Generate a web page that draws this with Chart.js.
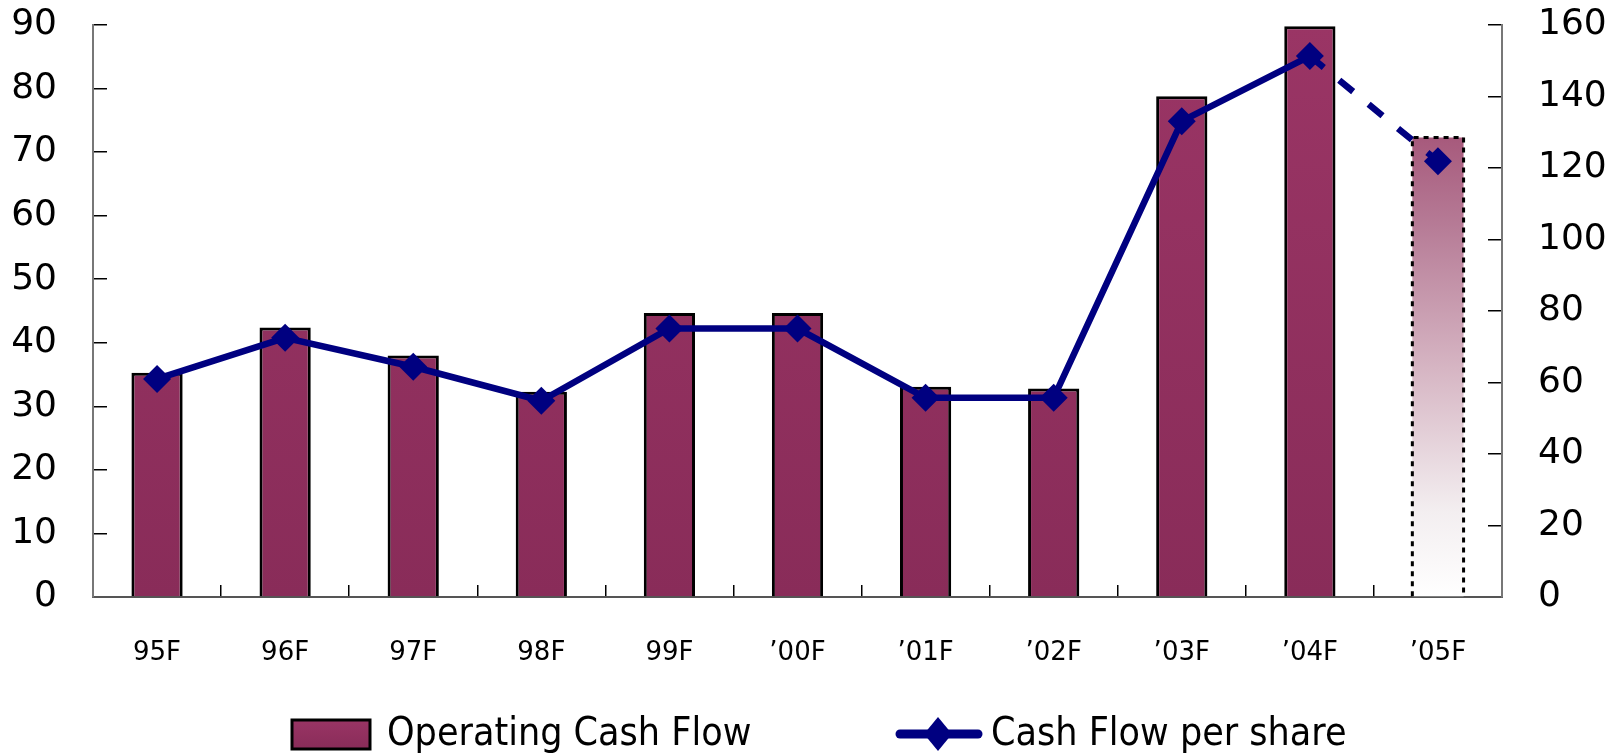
<!DOCTYPE html>
<html>
<head>
<meta charset="utf-8">
<style>
  html, body { margin: 0; padding: 0; background: #ffffff; }
  #wrap { width: 1619px; height: 755px; }
</style>
<script src="https://cdn.jsdelivr.net/npm/chart.js@4/dist/chart.umd.min.js"></script>
</head>
<body>
<div id="wrap"><canvas id="chart" width="1619" height="755"></canvas></div>
<script>
// Fiscal years on the category axis
const years = ['95F', '96F', '97F', '98F', '99F', '’00F', '’01F', '’02F', '’03F', '’04F', '’05F'];
// Operating cash flow (left axis)
const operatingCashFlow = [35.3, 42.4, 38.0, 32.3, 44.7, 44.7, 33.1, 32.8, 78.8, 89.8, 72.3];
// Cash flow per share (right axis)
const cashFlowPerShare = [61.0, 72.5, 64.4, 54.9, 75.1, 75.1, 55.7, 55.7, 133.1, 151.3, 121.9];
// Axis ranges
const leftAxis = { min: 0, max: 90, step: 10 };
const rightAxis = { min: 0, max: 160, step: 20 };

const lastIndex = years.length - 1;   // the forecast year
const BAR_TOP = '#9a3565';
const BAR_BOTTOM = '#892c59';
const NAVY = '#000080';
const FONT = '"DejaVu Sans", Arial, sans-serif';

function barFill(ctx) {
  const chart = ctx.chart;
  const area = chart.chartArea;
  if (!area) return BAR_TOP;
  const c = chart.ctx;
  if (ctx.dataIndex === lastIndex) {
    const el = chart.getDatasetMeta(ctx.datasetIndex).data[ctx.dataIndex];
    const top = el && isFinite(el.y) ? el.y : area.top;
    const g = c.createLinearGradient(0, top, 0, area.bottom);
    g.addColorStop(0, '#953062');
    g.addColorStop(0.08, '#9b4068');
    g.addColorStop(0.35, '#b67b96');
    g.addColorStop(0.6, '#d6b5c3');
    g.addColorStop(0.85, '#f3eef0');
    g.addColorStop(1, '#ffffff');
    return g;
  }
  const g = c.createLinearGradient(0, area.top, 0, area.bottom);
  g.addColorStop(0, BAR_TOP);
  g.addColorStop(1, BAR_BOTTOM);
  return g;
}

// Dotted outline for the forecast bar
const forecastOutline = {
  id: 'forecastOutline',
  afterDatasetsDraw(chart) {
    const meta = chart.getDatasetMeta(0);
    const bar = meta.data[lastIndex];
    if (!bar) return;
    const p = bar.getProps(['x', 'y', 'base', 'width'], true);
    const left = p.x - p.width / 2, right = p.x + p.width / 2;
    const c = chart.ctx;
    c.save();
    c.strokeStyle = '#000000';
    c.lineWidth = 3;
    c.setLineDash([5, 5]);
    c.beginPath();
    c.moveTo(left, p.base);
    c.lineTo(left, p.y);
    c.lineTo(right, p.y);
    c.lineTo(right, p.base);
    c.stroke();
    c.restore();
  }
};

// Legend row drawn under the axis labels
const bottomLegend = {
  id: 'bottomLegend',
  afterDraw(chart) {
    const c = chart.ctx;
    const y = 734;
    const ds = chart.data.datasets;
    c.save();
    // bar swatch
    const g = c.createLinearGradient(0, y - 15, 0, y + 15);
    g.addColorStop(0, BAR_TOP);
    g.addColorStop(1, BAR_BOTTOM);
    c.fillStyle = g;
    c.fillRect(292, y - 14, 78, 29);
    c.strokeStyle = '#000000';
    c.lineWidth = 3;
    c.strokeRect(292, y - 14, 78, 29);
    // line swatch
    c.strokeStyle = NAVY;
    c.lineWidth = 9;
    c.lineCap = 'round';
    c.beginPath();
    c.moveTo(900, y);
    c.lineTo(978, y);
    c.stroke();
    c.fillStyle = NAVY;
    c.beginPath();
    c.moveTo(938, y - 17);
    c.lineTo(952, y);
    c.lineTo(938, y + 17);
    c.lineTo(924, y);
    c.closePath();
    c.fill();
    // labels
    c.fillStyle = '#000000';
    c.font = '39px "DejaVu Sans Condensed", "Liberation Sans", Arial, sans-serif';
    c.textBaseline = 'middle';
    c.textAlign = 'left';
    c.fillText(ds[0].label, 387, y + 1);
    c.fillText(ds[1].label, 991, y + 1);
    c.restore();
  }
};

const tickFont = { family: FONT, size: 36 };

// Keeps the plot area fixed: axis widths and label overhang
function fixVertical(width) {
  return (scale) => {
    scale.width = width;
    scale.paddingTop = 10;
    scale.paddingBottom = 10;
  };
}

new Chart(document.getElementById('chart'), {
  data: {
    labels: years,
    datasets: [
      {
        type: 'bar',
        label: 'Operating Cash Flow',
        data: operatingCashFlow,
        yAxisID: 'yLeft',
        backgroundColor: barFill,
        borderColor: (ctx) => ctx.dataIndex === lastIndex ? 'rgba(0,0,0,0)' : '#000000',
        borderWidth: (ctx) => ctx.dataIndex === lastIndex ? 0 : 3,
        borderSkipped: 'bottom',
        barPercentage: 0.4,
        categoryPercentage: 1.0,
        order: 2
      },
      {
        type: 'line',
        label: 'Cash Flow per share',
        data: cashFlowPerShare,
        yAxisID: 'yRight',
        borderColor: NAVY,
        backgroundColor: NAVY,
        borderWidth: 6.5,
        pointStyle: 'rectRot',
        pointRadius: 14,
        pointHoverRadius: 14,
        pointBackgroundColor: NAVY,
        pointBorderColor: NAVY,
        pointBorderWidth: 0,
        tension: 0,
        fill: false,
        segment: {
          borderDash: (s) => s.p1DataIndex === lastIndex ? [18, 20] : undefined
        },
        order: 1
      }
    ]
  },
  options: {
    responsive: false,
    animation: false,
    layout: { padding: { top: 25, bottom: 88, left: 0, right: 0 } },
    plugins: {
      legend: { display: false },
      tooltip: { enabled: false }
    },
    scales: {
      x: {
        offset: true,
        grid: {
          offset: true,
          drawOnChartArea: false,
          drawTicks: true,
          tickLength: -12,
          color: '#000000',
          lineWidth: 1.5
        },
        border: { color: '#555555', width: 2 },
        ticks: {
          color: '#000000',
          font: { family: FONT, size: 26 },
          padding: 53,
          maxRotation: 0,
          autoSkip: false
        },
        afterFit(scale) { scale.height = 70; }
      },
      yLeft: {
        position: 'left',
        min: leftAxis.min,
        max: leftAxis.max,
        grid: {
          drawOnChartArea: false,
          drawTicks: true,
          tickLength: -14,
          color: '#000000',
          lineWidth: 1.5
        },
        border: { color: '#777777', width: 2 },
        ticks: {
          stepSize: leftAxis.step,
          color: '#000000',
          font: tickFont,
          padding: 50
        },
        afterFit: fixVertical(93)
      },
      yRight: {
        position: 'right',
        min: rightAxis.min,
        max: rightAxis.max,
        grid: {
          drawOnChartArea: false,
          drawTicks: true,
          tickLength: -14,
          color: '#000000',
          lineWidth: 1.5
        },
        border: { color: '#777777', width: 2 },
        ticks: {
          stepSize: rightAxis.step,
          color: '#000000',
          font: tickFont,
          padding: 50
        },
        afterFit: fixVertical(117)
      }
    }
  },
  plugins: [forecastOutline, bottomLegend]
});
</script>
</body>
</html>
